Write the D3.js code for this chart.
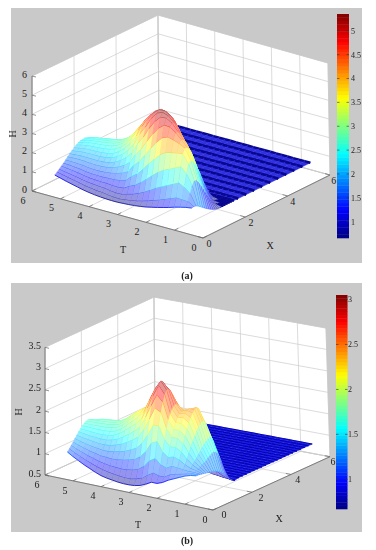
<!DOCTYPE html>
<html>
<head>
<meta charset="utf-8">
<script src="https://cdn.jsdelivr.net/npm/d3@7"></script>
<style>
html, body { margin: 0; background: #fff; }
svg { display: block; filter: blur(0.3px); }
text { font-family: "Liberation Serif", serif; fill: #222; }
</style>
</head>
<body>
<div id="chart"></div>
<script>
// grid lines of the mesh
var xLines = [0, .1, .2, .3, .4, .5, .6, .7, .8, .9, 1, 1.1, 1.2, 1.3, 1.4, 1.5, 1.6, 1.7, 1.8, 1.9, 2];
var tRowsA = [5.2, 5, 4.8, 4.6, 4.4, 4.2, 4, 3.8, 3.6, 3.4, 3.2, 3, 2.8, 2.6, 2.4, 2.2, 2, 1.8, 1.6, 1.4, 1.2, 1, .8, .6, .4];
var tRowsB = [5.2, 5, 4.8, 4.6, 4.4, 4.2, 4, 3.8, 3.6, 3.4, 3.2, 3, 2.8, 2.6, 2.4, 2.2, 2, 1.8, 1.6, 1.4, 1.2, 1, .8, .6];
// flat sheet behind the ridge
var xFlatA = [2.2, 2.58, 2.96, 3.34, 3.72, 4.1, 4.48, 4.86, 5.24, 5.62];
var xFlatB = [2.2, 2.4, 2.6, 2.8, 3, 3.2, 3.4, 3.6, 3.8, 4, 4.2, 4.4, 4.6, 4.8, 5, 5.2, 5.4, 5.6, 5.8, 6];
var flatA = 0.7;
var flatB = 0.72;

// H, one row per T value
var hA = [
[1.16,1.25,1.35,1.45,1.55,1.66,1.77,1.88,1.98,2.08,2.17,2.24,2.29,2.31,2.32,2.26,2.12,1.88,1.55,1.2,.92],
[1.08,1.19,1.29,1.42,1.54,1.66,1.79,1.91,2.03,2.14,2.25,2.33,2.38,2.41,2.42,2.36,2.2,1.94,1.6,1.22,.92],
[1,1.12,1.24,1.38,1.51,1.65,1.8,1.93,2.07,2.19,2.31,2.4,2.46,2.49,2.5,2.44,2.28,2,1.64,1.25,.92],
[.93,1.06,1.19,1.34,1.48,1.63,1.79,1.93,2.08,2.21,2.34,2.44,2.5,2.54,2.55,2.5,2.34,2.06,1.68,1.27,.93],
[.86,1,1.13,1.28,1.43,1.59,1.76,1.92,2.08,2.22,2.36,2.47,2.54,2.58,2.6,2.56,2.41,2.12,1.73,1.3,.95],
[.79,.93,1.08,1.24,1.4,1.57,1.75,1.92,2.09,2.24,2.39,2.5,2.59,2.63,2.65,2.61,2.46,2.17,1.76,1.32,.96],
[.74,.89,1.05,1.22,1.39,1.57,1.76,1.94,2.12,2.28,2.44,2.56,2.65,2.7,2.72,2.68,2.52,2.22,1.8,1.34,.97],
[.7,.85,1.02,1.2,1.39,1.59,1.79,1.99,2.19,2.37,2.54,2.68,2.77,2.83,2.85,2.8,2.62,2.3,1.86,1.38,.98],
[.67,.83,1,1.2,1.41,1.63,1.87,2.1,2.33,2.55,2.74,2.89,2.98,3.03,3.05,2.98,2.78,2.42,1.94,1.42,1],
[.65,.78,.95,1.17,1.42,1.7,1.98,2.27,2.55,2.8,3.02,3.18,3.3,3.35,3.33,3.22,2.98,2.6,2.08,1.5,1.03],
[.64,.75,.92,1.16,1.46,1.8,2.16,2.52,2.87,3.17,3.42,3.6,3.7,3.72,3.66,3.5,3.22,2.8,2.25,1.62,1.08],
[.64,.74,.93,1.2,1.55,1.95,2.4,2.83,3.24,3.6,3.88,4.05,4.1,4.07,3.96,3.75,3.42,2.96,2.38,1.72,1.12],
[.66,.78,1.02,1.38,1.84,2.37,2.9,3.4,3.85,4.2,4.42,4.45,4.38,4.22,3.98,3.65,3.22,2.7,2.1,1.5,1.05],
[.68,.82,1.1,1.52,2.05,2.65,3.25,3.82,4.3,4.65,4.8,4.8,4.7,4.5,4.2,3.8,3.3,2.72,2.1,1.48,1.02],
[.71,.88,1.22,1.74,2.38,3.08,3.75,4.35,4.82,5.05,5.1,5.05,4.9,4.66,4.32,3.88,3.34,2.72,2.08,1.46,1],
[.75,.96,1.38,2,2.75,3.5,4.2,4.8,5.18,5.3,5.28,5.15,4.95,4.65,4.25,3.75,3.18,2.58,1.98,1.4,.98],
[.8,1.05,1.55,2.27,3.08,3.88,4.58,5.1,5.3,5.33,5.22,5.05,4.8,4.45,4.02,3.5,2.95,2.38,1.82,1.3,.95],
[.87,1.16,1.74,2.52,3.38,4.2,4.82,5.13,5.2,5.14,5,4.78,4.48,4.1,3.64,3.14,2.6,2.08,1.58,1.15,.88],
[.94,1.26,1.9,2.72,3.58,4.32,4.8,4.95,4.92,4.78,4.55,4.25,3.88,3.45,2.98,2.5,2.03,1.6,1.24,.95,.78],
[1.02,1.38,2.05,2.85,3.65,4.25,4.58,4.6,4.48,4.28,4,3.65,3.25,2.82,2.38,1.95,1.55,1.22,.97,.8,.72],
[1.1,1.5,2.2,3,3.7,4.15,4.3,4.25,4.08,3.82,3.5,3.12,2.72,2.3,1.9,1.52,1.2,.95,.78,.71,.7],
[1.2,1.62,2.35,3.15,3.75,4,3.98,3.85,3.62,3.3,2.95,2.6,2.33,1.98,1.68,1.4,1.12,.9,.76,.7,.7],
[1.28,1.6,2.2,2.85,3.3,3.42,3.35,3.15,2.88,2.55,2.22,1.9,1.6,1.33,1.08,.88,.75,.7,.7,.7,.7],
[1.35,1.58,1.95,2.3,2.5,2.48,2.32,2.1,1.88,1.65,1.42,1.2,1.02,.87,.76,.7,.7,.7,.7,.7,.7],
[1.4,1.42,1.4,1.34,1.26,1.17,1.08,1,.92,.85,.79,.74,.7,.69,.69,.69,.7,.7,.7,.7,.7]
];

// H
var hB = [
[1.15,1.2,1.26,1.32,1.38,1.44,1.5,1.55,1.6,1.64,1.67,1.68,1.67,1.64,1.58,1.48,1.34,1.18,1,.85,.76],
[1.07,1.13,1.2,1.27,1.34,1.41,1.48,1.54,1.6,1.64,1.68,1.7,1.7,1.68,1.62,1.52,1.38,1.2,1.02,.86,.76],
[1,1.07,1.15,1.23,1.31,1.39,1.46,1.53,1.59,1.64,1.68,1.71,1.72,1.71,1.66,1.56,1.42,1.24,1.04,.87,.77],
[.93,1.01,1.1,1.19,1.28,1.37,1.45,1.52,1.59,1.65,1.69,1.72,1.74,1.73,1.68,1.59,1.45,1.26,1.06,.88,.77],
[.87,.96,1.06,1.16,1.26,1.35,1.44,1.52,1.59,1.65,1.7,1.73,1.75,1.74,1.7,1.61,1.47,1.28,1.07,.88,.77],
[.81,.91,1.02,1.13,1.24,1.35,1.44,1.53,1.6,1.67,1.72,1.75,1.77,1.76,1.72,1.63,1.48,1.29,1.08,.89,.77],
[.76,.87,.99,1.12,1.24,1.36,1.47,1.56,1.64,1.71,1.76,1.8,1.82,1.8,1.75,1.65,1.5,1.3,1.09,.89,.77],
[.73,.84,.97,1.11,1.26,1.4,1.52,1.63,1.72,1.8,1.86,1.9,1.92,1.89,1.82,1.7,1.53,1.32,1.1,.9,.77],
[.71,.82,.96,1.12,1.29,1.45,1.6,1.73,1.84,1.93,1.99,2.03,2.02,1.97,1.88,1.74,1.56,1.35,1.12,.91,.78],
[.69,.8,.95,1.14,1.33,1.52,1.69,1.84,1.96,2.05,2.11,2.13,2.11,2.05,1.95,1.8,1.61,1.38,1.14,.92,.78],
[.68,.79,.96,1.17,1.39,1.6,1.79,1.95,2.08,2.16,2.21,2.22,2.2,2.13,2.02,1.86,1.65,1.41,1.16,.93,.79],
[.68,.79,.98,1.21,1.46,1.7,1.92,2.09,2.22,2.3,2.32,2.32,2.28,2.2,2.08,1.91,1.69,1.44,1.17,.94,.79],
[.69,.82,1.03,1.3,1.6,1.9,2.17,2.37,2.52,2.6,2.6,2.56,2.48,2.36,2.2,2,1.76,1.49,1.2,.95,.8],
[.72,.86,1.12,1.45,1.82,2.17,2.47,2.68,2.82,2.85,2.8,2.72,2.6,2.45,2.26,2.04,1.79,1.51,1.22,.96,.8],
[.78,.96,1.28,1.68,2.08,2.45,2.74,2.94,3.03,3,2.9,2.78,2.65,2.48,2.28,2.05,1.8,1.52,1.23,.97,.8],
[.85,1.04,1.36,1.74,2.08,2.38,2.6,2.76,2.85,2.85,2.8,2.7,2.58,2.42,2.23,2.02,1.78,1.5,1.22,.96,.8],
[.85,1,1.24,1.52,1.79,2.02,2.2,2.33,2.42,2.48,2.5,2.47,2.4,2.3,2.15,1.97,1.75,1.49,1.21,.96,.8],
[.9,1,1.19,1.42,1.65,1.85,2.02,2.15,2.25,2.32,2.36,2.36,2.33,2.26,2.14,1.97,1.75,1.49,1.21,.96,.8],
[.98,1.08,1.26,1.46,1.66,1.85,2.02,2.16,2.27,2.35,2.4,2.42,2.4,2.33,2.2,2.02,1.78,1.5,1.21,.95,.78],
[1.04,1.12,1.25,1.41,1.58,1.75,1.91,2.05,2.18,2.28,2.37,2.43,2.46,2.42,2.3,2.1,1.84,1.53,1.2,.92,.75],
[1.1,1.15,1.23,1.33,1.44,1.56,1.68,1.79,1.9,1.99,2.07,2.13,2.17,2.15,2.06,1.9,1.7,1.42,1.12,.87,.74],
[1.16,1.18,1.22,1.27,1.33,1.39,1.45,1.52,1.58,1.64,1.69,1.74,1.78,1.8,1.76,1.64,1.46,1.22,.98,.8,.72],
[1.2,1.21,1.22,1.24,1.26,1.28,1.31,1.34,1.37,1.41,1.45,1.48,1.5,1.48,1.42,1.32,1.18,1.02,.86,.75,.71],
[1.22,1.22,1.21,1.2,1.19,1.18,1.17,1.16,1.15,1.14,1.12,1.1,1.07,1.03,.98,.92,.86,.8,.75,.72,.7]
];

var tTicks = [0, 1, 2, 3, 4, 5, 6];
var xTicks = [0, 2, 4, 6];
var hTicksA = [0, 1, 2, 3, 4, 5, 6];
var hTicksB = [0.5, 1, 1.5, 2, 2.5, 3, 3.5];
var barTicksA = [1, 1.5, 2, 2.5, 3, 3.5, 4, 4.5, 5];
var barTicksB = [1, 1.5, 2, 2.5, 3];

var panels = [
    {
        caption: "(a)", captionY: 279, frame: [11, 8, 351, 255],
        // box corners: [x at X0T0, X6T0, X0T6, X6T6] floor then top
        floor: [[203, 238], [330, 175], [32, 191], [159, 128]],
        top: [[203, 123], [328, 63], [32, 76], [158, 15]],
        hDomain: [0, 6], hTicks: hTicksA,
        cDomain: [0.66, 5.35], bar: [337, 14, 12, 224], barTicks: barTicksA, barLabelX: 351,
        tRows: tRowsA, h: hA, xFlat: xFlatA, flat: flatA,
        sheetFill: "#3030e0", sheetLine: "#08088e", sheetWidth: 2.4,
        tLabel: [123, 253], xLabel: [270, 249], hLabel: [16, 134],
        tShift: [-9, 12.5], xDx: [6, 5.7, 5, 3.8], xDy: 9, hShift: -5
    },
    {
        caption: "(b)", captionY: 544, frame: [11, 283, 351, 249],
        floor: [[213, 510], [330, 456.7], [45, 475], [155, 424]],
        top: [[213, 382], [326, 328], [45, 347.3], [154, 297]],
        hDomain: [0.5, 3.5], hTicks: hTicksB,
        cDomain: [0.67, 3.05], bar: [336, 295, 11.5, 214], barTicks: barTicksB, barLabelX: 348,
        tRows: tRowsB, h: hB, xFlat: xFlatB, flat: flatB,
        sheetFill: "#1c1cf0", sheetLine: "#0505a8", sheetWidth: 1.1,
        tLabel: [138, 528], xLabel: [279, 522], hLabel: [22, 412],
        tShift: [-8, 12.7], xDx: [11, 9, 6.7, 3], xDy: 8.4, hShift: -4
    }
];

var jet = d3.scaleLinear()
    .domain([0, .125, .375, .625, .875, 1])
    .range(["#000080", "#0000ff", "#00ffff", "#ffff00", "#ff0000", "#800000"])
    .clamp(true);

var svg = d3.select("#chart").append("svg")
    .attr("width", 376)
    .attr("height", 550);

panels.forEach(drawPanel);

function drawPanel(p) {
    var g = svg.append("g");

    g.append("rect")
        .attr("x", p.frame[0]).attr("y", p.frame[1])
        .attr("width", p.frame[2]).attr("height", p.frame[3])
        .attr("fill", "#c9c9c9");

    var xs = d3.scaleLinear().domain([0, 6]).range([0, 1]);
    var ts = d3.scaleLinear().domain([0, 6]).range([0, 1]);
    var hs = d3.scaleLinear().domain(p.hDomain).range([0, 1]);
    var color = d3.scaleLinear().domain(p.cDomain).range([0, 1]);

    // trilinear mapping over the 8 corners of the box
    function project(x, t, h) {
        var u = xs(x), v = ts(t), w = hs(h);
        return [0, 1].map(function (k) {
            var lo = (p.floor[0][k] * (1 - u) + p.floor[1][k] * u) * (1 - v) + (p.floor[2][k] * (1 - u) + p.floor[3][k] * u) * v;
            var hi = (p.top[0][k] * (1 - u) + p.top[1][k] * u) * (1 - v) + (p.top[2][k] * (1 - u) + p.top[3][k] * u) * v;
            return lo * (1 - w) + hi * w;
        });
    }
    var line = d3.line();
    var h0 = p.hDomain[0], h1 = p.hDomain[1];

    // walls
    var walls = [
        [[0, 0, h0], [6, 0, h0], [6, 6, h0], [0, 6, h0]],
        [[0, 6, h0], [6, 6, h0], [6, 6, h1], [0, 6, h1]],
        [[6, 0, h0], [6, 6, h0], [6, 6, h1], [6, 0, h1]]
    ];
    g.selectAll("path.wall").data(walls).join("path")
        .attr("class", "wall")
        .attr("d", function (w) { return line(w.map(function (c) { return project(c[0], c[1], c[2]); })) + "Z"; })
        .attr("fill", "#fff")
        .attr("stroke", "#bdbdbd")
        .attr("stroke-width", .6);

    // grid lines
    var grid = [];
    tTicks.forEach(function (t) {
        grid.push([[0, t, h0], [6, t, h0]]);
        grid.push([[6, t, h0], [6, t, h1]]);
    });
    xTicks.forEach(function (x) {
        grid.push([[x, 0, h0], [x, 6, h0]]);
        grid.push([[x, 6, h0], [x, 6, h1]]);
    });
    p.hTicks.forEach(function (h) {
        grid.push([[0, 6, h], [6, 6, h]]);
        grid.push([[6, 6, h], [6, 0, h]]);
    });
    g.selectAll("path.grid").data(grid).join("path")
        .attr("class", "grid")
        .attr("d", function (s) { return line(s.map(function (c) { return project(c[0], c[1], c[2]); })); })
        .attr("fill", "none")
        .attr("stroke", "#cccccc")
        .attr("stroke-width", .7);

    // mesh: strips from the back row to the front, each from far X to near X
    var cols = xLines.concat(p.xFlat);
    function H(i, j) { return j < xLines.length ? p.h[i][j] : p.flat; }
    var marks = [];
    for (var i = 0; i < p.tRows.length - 1; i++) {
        for (var j = cols.length - 2; j >= 0; j--) {
            var a = project(cols[j], p.tRows[i], H(i, j));
            var b = project(cols[j + 1], p.tRows[i], H(i, j + 1));
            var c = project(cols[j + 1], p.tRows[i + 1], H(i + 1, j + 1));
            var d = project(cols[j], p.tRows[i + 1], H(i + 1, j));
            var mean = (H(i, j) + H(i, j + 1) + H(i + 1, j + 1) + H(i + 1, j)) / 4;
            var sheet = cols[j] >= 1 && mean <= p.flat + .02;
            var col = jet(color(mean));
            var fill = sheet ? p.sheetFill : d3.interpolateRgb("#fff", col)(.42);
            marks.push({ d: line([a, b, c, d]) + "Z", fill: fill, stroke: fill, w: .4, o: 1 });
            marks.push({ d: line([a, d]), fill: "none", stroke: sheet ? p.sheetLine : col, w: sheet ? p.sheetWidth : .75, o: 1 });
            if (sheet) {
                marks.push({ d: line([b, c]), fill: "none", stroke: p.sheetLine, w: p.sheetWidth, o: 1 });
            }
            marks.push({ d: line([d, c]), fill: "none", stroke: col, w: .5, o: sheet ? .2 : .5 });
        }
    }
    g.selectAll("path.mesh").data(marks).join("path")
        .attr("class", "mesh")
        .attr("d", function (m) { return m.d; })
        .attr("fill", function (m) { return m.fill; })
        .attr("stroke", function (m) { return m.stroke; })
        .attr("stroke-width", function (m) { return m.w; })
        .attr("stroke-opacity", function (m) { return m.o; });

    // axes lines and ticks
    var axes = [
        [[0, 0, h0], [0, 6, h0]],
        [[0, 0, h0], [6, 0, h0]],
        [[0, 6, h0], [0, 6, h1]]
    ];
    g.selectAll("path.axis").data(axes).join("path")
        .attr("class", "axis")
        .attr("d", function (s) { return line(s.map(function (c) { return project(c[0], c[1], c[2]); })); })
        .attr("fill", "none")
        .attr("stroke", "#666")
        .attr("stroke-width", .8);

    tTicks.forEach(function (t) {
        var q = project(0, t, h0);
        var q2 = project(.18, t, h0);
        g.append("path").attr("d", line([q, q2])).attr("stroke", "#666").attr("stroke-width", .7);
        g.append("text").attr("x", q[0] + p.tShift[0]).attr("y", q[1] + p.tShift[1])
            .attr("text-anchor", "middle").attr("font-size", 10).text(t);
    });
    xTicks.forEach(function (x, k) {
        var q = project(x, 0, h0);
        var q2 = project(x, .18, h0);
        g.append("path").attr("d", line([q, q2])).attr("stroke", "#666").attr("stroke-width", .7);
        g.append("text").attr("x", q[0] + p.xDx[k]).attr("y", q[1] + p.xDy)
            .attr("text-anchor", "middle").attr("font-size", 10).text(x);
    });
    p.hTicks.forEach(function (h) {
        var q = project(0, 6, h);
        g.append("path").attr("d", line([q, [q[0] + 4, q[1] + 1]])).attr("stroke", "#666").attr("stroke-width", .7);
        g.append("text").attr("x", q[0] + p.hShift).attr("y", q[1] + 1.5)
            .attr("text-anchor", "end").attr("font-size", 10).text(h);
    });

    g.append("text").attr("x", p.tLabel[0]).attr("y", p.tLabel[1])
        .attr("text-anchor", "middle").attr("font-size", 10).text("T");
    g.append("text").attr("x", p.xLabel[0]).attr("y", p.xLabel[1])
        .attr("text-anchor", "middle").attr("font-size", 10).text("X");
    g.append("text")
        .attr("transform", "translate(" + p.hLabel[0] + "," + p.hLabel[1] + ") rotate(-90)")
        .attr("text-anchor", "middle").attr("font-size", 10).text("H");

    // colorbar
    var barY = d3.scaleLinear().domain(p.cDomain).range([p.bar[1] + p.bar[3], p.bar[1]]);
    var steps = d3.range(0, 64);
    var stepH = p.bar[3] / 64;
    g.selectAll("rect.bar").data(steps).join("rect")
        .attr("class", "bar")
        .attr("x", p.bar[0])
        .attr("y", function (s) { return p.bar[1] + p.bar[3] - (s + 1) * stepH; })
        .attr("width", p.bar[2])
        .attr("height", stepH + .3)
        .attr("fill", function (s) { return jet((s + .5) / 64); });
    p.barTicks.forEach(function (v) {
        var y = barY(v);
        g.append("path").attr("d", "M" + p.bar[0] + "," + y + "h2.5M" + (p.bar[0] + p.bar[2]) + "," + y + "h-2.5")
            .attr("stroke", "#333").attr("stroke-width", .6);
        g.append("text").attr("x", p.barLabelX).attr("y", y + 3)
            .attr("font-size", 8).text(v);
    });

    svg.append("text").attr("x", 187).attr("y", p.captionY)
        .attr("text-anchor", "middle").attr("font-size", 10).attr("font-weight", "bold").text(p.caption);
}
</script>
</body>
</html>
